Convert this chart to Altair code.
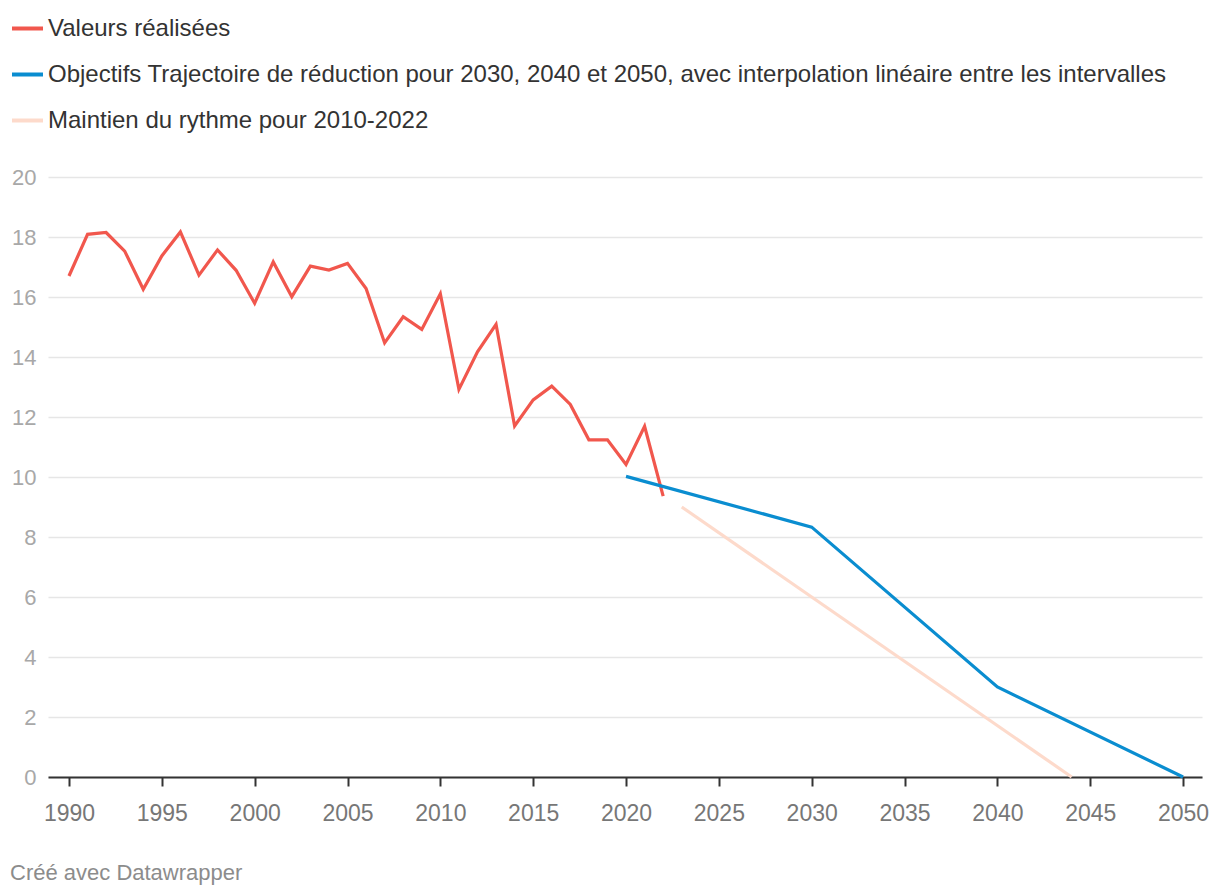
import altair as alt
import pandas as pd

# --- data ---
years_real = list(range(1990, 2023))
values_real = [16.70, 18.09, 18.15, 17.53, 16.26, 17.37, 18.17, 16.73, 17.57, 16.89,
               15.79, 17.17, 16.01, 17.03, 16.90, 17.12, 16.28, 14.47, 15.34, 14.92,
               16.11, 12.92, 14.17, 15.09, 11.70, 12.57, 13.03, 12.42, 11.24, 11.24,
               10.42, 11.69, 9.36]

years_target = [2020, 2030, 2040, 2050]
values_target = [10.02, 8.33, 3.0, 0.0]

years_trend = [2023, 2044]
values_trend = [9.0, 0.0]

s_real = "Valeurs réalisées"
s_target = "Objectifs Trajectoire de réduction pour 2030, 2040 et 2050, avec interpolation linéaire entre les intervalles"
s_trend = "Maintien du rythme pour 2010-2022"
series_names = [s_real, s_target, s_trend]
series_colors = ["#f1574d", "#0a8dd0", "#fddacb"]

x_ticks = list(range(1990, 2051, 5))
y_ticks = list(range(0, 21, 2))

df = pd.concat([
    pd.DataFrame({"year": years_real, "value": values_real, "series": s_real}),
    pd.DataFrame({"year": years_target, "value": values_target, "series": s_target}),
    pd.DataFrame({"year": years_trend, "value": values_trend, "series": s_trend}),
])

FONT = "Liberation Sans"

chart = alt.Chart(df).mark_line(strokeWidth=3.2).encode(
    x=alt.X("year:Q",
            scale=alt.Scale(domain=[1988.87, 2051.02], nice=False, zero=False),
            axis=alt.Axis(values=x_ticks, format="d", title=None, grid=False,
                          domainColor="#333333", domainWidth=2,
                          tickColor="#333333", tickWidth=2, tickSize=9,
                          labelColor="#777777", labelFontSize=23, labelFont=FONT,
                          labelPadding=16, labelFlush=False)),
    y=alt.Y("value:Q",
            scale=alt.Scale(domain=[0, 20], nice=False),
            axis=alt.Axis(values=y_ticks, title=None, domain=False, ticks=False,
                          grid=True, gridColor="#e6e6e6", gridWidth=1.5,
                          labelColor="#a8a8a8", labelFontSize=22, labelFont=FONT,
                          labelPadding=12)),
    color=alt.Color("series:N",
                    scale=alt.Scale(domain=series_names, range=series_colors),
                    sort=series_names,
                    legend=alt.Legend(title=None, orient="none", legendX=-38, legendY=-166,
                                      direction="vertical", symbolType="stroke",
                                      symbolSize=961, symbolStrokeWidth=4,
                                      labelFontSize=24, labelFont=FONT, labelColor="#333333",
                                      labelOffset=3, labelLimit=1200, rowPadding=16,
                                      padding=0)),
    detail="series:N",
    order=alt.Order("year:Q"),
).properties(
    width=1154,
    height=600,
    autosize=alt.AutoSizeParams(type="none"),
    padding={"left": 48, "top": 177, "right": 18, "bottom": 119},
    title=alt.TitleParams("Créé avec Datawrapper", orient="bottom", anchor="start",
                          dx=0, offset=38, fontSize=22, font=FONT,
                          fontWeight="normal", color="#8c8c8c"),
).configure(background="white", view=alt.ViewConfig(stroke=None))

chart.save("out.html", embed_options={"renderer": "svg", "actions": False})
